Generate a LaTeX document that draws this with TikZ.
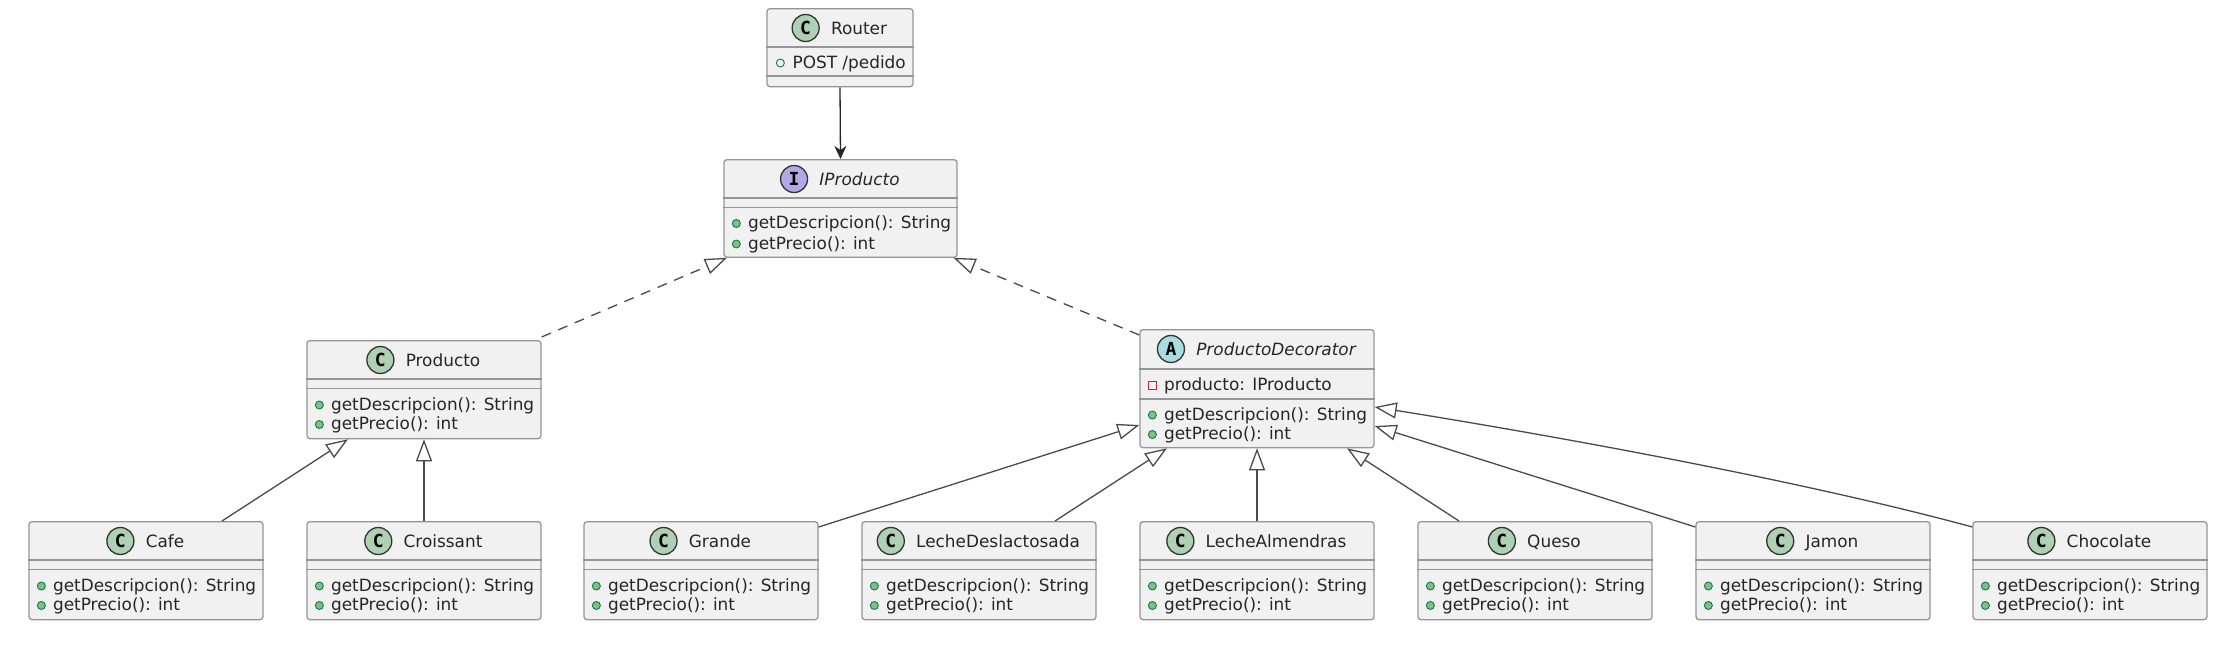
\documentclass[tikz,border=0pt]{standalone}
\usepackage{fontspec}
\usepackage{tikz}
\usetikzlibrary{arrows.meta}
\usetikzlibrary{positioning}
\setmainfont{DejaVu Sans}
\newfontfamily\spotfont{DejaVu Sans Mono}

\definecolor{classfill}{HTML}{F1F1F1}
\definecolor{classedge}{HTML}{959595}
\definecolor{edgeline}{HTML}{4A4A4A}
\definecolor{classink}{HTML}{262626}
\definecolor{spotC}{HTML}{ADD1B2}
\definecolor{spotI}{HTML}{B4A7E5}
\definecolor{spotA}{HTML}{A9DCDF}
\definecolor{pubfill}{HTML}{84BE84}
\definecolor{pubedge}{HTML}{038048}
\definecolor{privedge}{HTML}{C82930}

\tikzset{
	classbox/.style = {draw = classedge, fill = classfill, line width = 1.3pt, rounded corners = 3pt, inner sep = 0pt, anchor = north},
	classsep/.style = {draw = classedge, line width = 1.3pt},
	classtitle/.style = {inner sep = 0pt, text = classink, text height = 15pt, text depth = 3pt, font = \fontsize{16.9}{20}\selectfont},
	classspot/.style = {circle, draw = black!80, line width = 1.3pt, minimum size = 27pt, inner sep = 0pt, text = black, font = \fontsize{18}{22}\spotfont\bfseries, left = 11pt of #1},
	membertext/.style = {inner sep = 0pt, anchor = base west, text = classink, font = \fontsize{16.9}{20}\selectfont},
	pubdot/.style = {circle, draw = pubedge, fill = pubfill, line width = 0.9pt, minimum size = 8pt, inner sep = 0pt},
	pubring/.style = {circle, draw = pubedge, line width = 0.9pt, minimum size = 8pt, inner sep = 0pt},
	privmark/.style = {rectangle, draw = privedge, line width = 0.9pt, minimum size = 8pt, inner sep = 0pt},
	extends/.style = {draw = edgeline, line width = 1.3pt, -{Triangle[open, fill = white, length = 22pt, width = 16pt]}},
	realizes/.style = {extends, dash pattern = on 10pt off 8pt},
	calls/.style = {draw = black!85, line width = 1.3pt, -{Stealth[length = 13pt, width = 12pt, inset = 4pt]}},
}

% box, title and round letter of a class: id, x, top, width, height, letter, colour, title
\newcommand{\classcard}[8]{
	\node[classbox, minimum width = #4pt, minimum height = #5pt] (#1) at (#2, #3) {};
	\node[classtitle] (#1title) at ([xshift = 19pt, yshift = -20pt]#1.north) {#8};
	\node[classspot = #1title, fill = #7] (#1spot) {#6};
}
% separator line under the top of a box
\newcommand{\classrule}[2]{
	\draw[classsep] ([yshift = -#2pt]#1.north west) -- ([yshift = -#2pt]#1.north east);
}
% one member line: id, row name, mark style, height of the mark, text
\newcommand{\classmember}[5]{
	\node[#3] (#1#2mark) at ([xshift = 13pt, yshift = -#4pt]#1.north west) {};
	\node[membertext] (#1#2) at ([xshift = 11.5pt, yshift = -5pt]#1#2mark.center) {#5};
}
% the two operations every product has
\newcommand{\classops}[3]{
	\classmember{#1}{desc}{pubdot}{#2}{getDescripcion(): String}
	\classmember{#1}{price}{pubdot}{#3}{getPrecio(): int}
}
% a plain class with empty field part
\newcommand{\plainclass}[4]{
	\classcard{#1}{#2}{#3}{234}{98}{C}{spotC}{#4}
	\classrule{#1}{39}
	\classrule{#1}{48.5}
	\classops{#1}{65}{84.5}
}

\begin{document}
\begin{tikzpicture}[x = 1pt, y = -1pt]
	%\draw[help lines] (0,0) grid (2224,656);
	\useasboundingbox (0, 0) rectangle (2224, 656);

	\classcard{router}{840}{8}{146}{78}{C}{spotC}{Router}
	\classrule{router}{39}
	\classrule{router}{68}
	\node[pubring] (routerpostmark) at ([xshift = 14pt, yshift = -55pt]router.north west) {};
	\node[membertext] (routerpost) at ([xshift = 12pt, yshift = -5pt]routerpostmark.center) {POST /pedido};

	\classcard{iproducto}{840.5}{159}{233}{97.5}{I}{spotI}{\itshape IProducto}
	\classrule{iproducto}{39}
	\classrule{iproducto}{48.5}
	\classops{iproducto}{64.5}{85}

	\plainclass{producto}{424}{340}{Producto}

	\classcard{decorator}{1257}{329}{234}{118}{A}{spotA}{\itshape ProductoDecorator}
	\classrule{decorator}{40}
	\classrule{decorator}{70}
	\node[privmark] (decoratorfieldmark) at ([xshift = 13pt, yshift = -56pt]decorator.north west) {};
	\node[membertext] (decoratorfield) at ([xshift = 11.5pt, yshift = -5pt]decoratorfieldmark.center) {producto: IProducto};
	\classops{decorator}{86}{105.5}

	\plainclass{cafe}{146}{521}{Cafe}
	\plainclass{croissant}{424}{521}{Croissant}
	\plainclass{grande}{701}{521}{Grande}
	\plainclass{deslactosada}{979}{521}{LecheDeslactosada}
	\plainclass{almendras}{1257}{521}{LecheAlmendras}
	\plainclass{queso}{1535}{521}{Queso}
	\plainclass{jamon}{1813}{521}{Jamon}
	\plainclass{chocolate}{2090}{521}{Chocolate}

	\draw[calls] (router.south) -- (iproducto.north);

	\draw[realizes] ([yshift = 3pt]producto.north east) -- ([xshift = -113.5pt]iproducto.south);
	\draw[realizes] ([yshift = -6pt]decorator.north west) -- ([xshift = 113pt]iproducto.south);

	\draw[extends] ([xshift = 76pt]cafe.north) -- ([xshift = -76pt]producto.south);
	\draw[extends] (croissant.north) -- (producto.south);

	\draw[extends] ([yshift = -6pt]grande.north east) -- ([yshift = -96pt]decorator.north west);
	\draw[extends] ([xshift = 76pt]deslactosada.north) -- ([xshift = -90pt]decorator.south);
	\draw[extends] (almendras.north) -- (decorator.south);
	\draw[extends] ([xshift = -76pt]queso.north) -- ([xshift = 90pt]decorator.south);
	\draw[extends] ([yshift = -6pt]jamon.north west) -- ([yshift = -97pt]decorator.north east);
	\draw[extends] ([yshift = -6pt]chocolate.north west) .. controls +(-173, -47) and +(175, 28) .. ([yshift = -78pt]decorator.north east);
\end{tikzpicture}
\end{document}
